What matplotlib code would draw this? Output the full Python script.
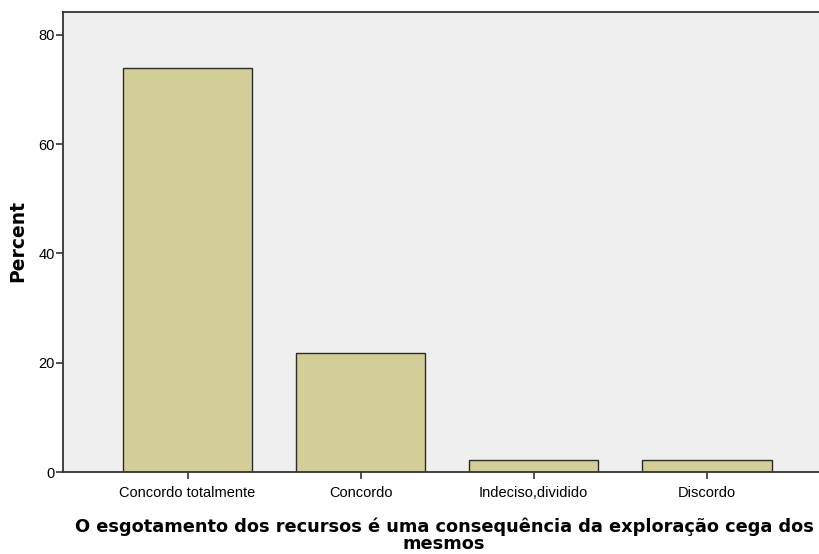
import matplotlib
matplotlib.use('Agg')
import matplotlib.pyplot as plt

categories = ['Concordo totalmente', 'Concordo', 'Indeciso,dividido', 'Discordo']
percent = [74.0, 21.8, 2.2, 2.2]
y_ticks = [0, 20, 40, 60, 80]

plt.rcParams['font.family'] = ['Liberation Sans', 'DejaVu Sans']

fig = plt.figure(figsize=(8.2, 5.54), dpi=100)
ax = fig.add_axes([63 / 820, 82 / 554, 1.02 - 63 / 820, 460 / 554])
ax.set_facecolor('#efefef')

x = range(len(categories))
ax.bar(x, percent, width=0.75, color='#d3ce97', edgecolor='#2b2b2b', linewidth=1.0, zorder=2)

ax.set_xlim(-0.72, 3.75)
ax.set_ylim(0, 84.2)
ax.set_yticks(y_ticks)
ax.set_xticks(list(x))
ax.set_xticklabels(categories, fontsize=10.5)
ax.tick_params(axis='y', labelsize=10.5, length=5, width=1.2, color='#333333', pad=1)
ax.tick_params(axis='x', length=5, width=1.2, color='#333333', pad=5)

for side in ['left', 'top', 'bottom']:
    ax.spines[side].set_color('#333333')
    ax.spines[side].set_linewidth(1.3)
ax.spines['right'].set_visible(False)

# axis titles placed in figure pixels, SPSS style
fig.text(17.5 / 820, 1 - 241 / 554, 'Percent', rotation=90, ha='center', va='center',
         fontsize=13.5, fontweight='bold', family=['DejaVu Sans'])
fig.text(444 / 820, 1 - 535 / 554,
         'O esgotamento dos recursos é uma consequência da exploração cega dos\nmesmos',
         ha='center', va='center', fontsize=12.75, fontweight='bold', linespacing=0.9,
         family=['DejaVu Sans'])

fig.savefig('out.png', dpi=100)
